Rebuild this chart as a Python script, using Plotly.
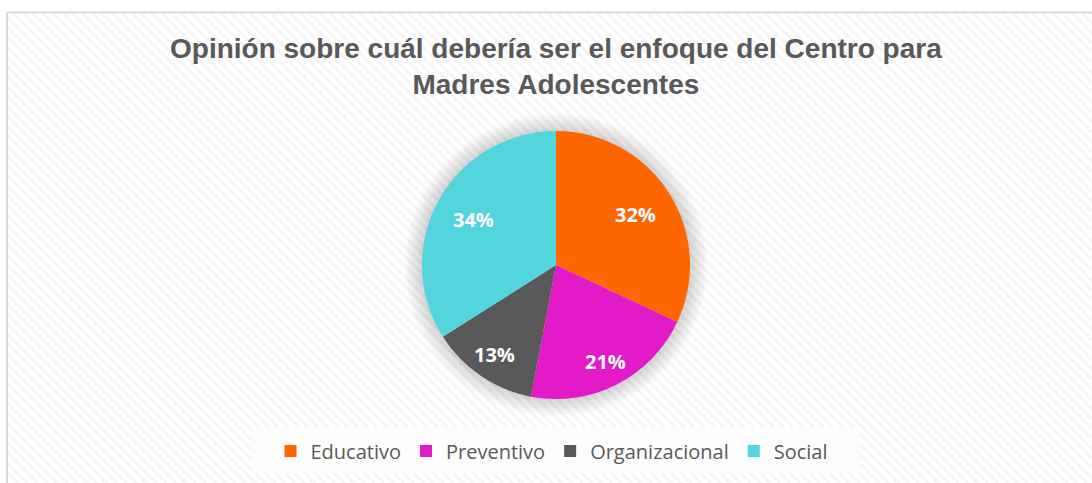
import numpy as np
import plotly.graph_objects as go

# ---- data ----
categories = ["Educativo", "Preventivo", "Organizacional", "Social"]
values = [32, 21, 13, 34]
colors = ["#FF6600", "#E31AC8", "#595959", "#52D5DD"]
title_lines = ["Opinión sobre cuál debería ser el enfoque del Centro para", "Madres Adolescentes"]

W, H = 1092, 483
cx, cy_top, R = 556, 265, 134
cy = H - cy_top

fig = go.Figure()

# hatched chart background
bx0, by1 = 7, H - 12.5
fig.add_trace(go.Scatter(
    x=[bx0, W + 10, W + 10, bx0, bx0], y=[-10, -10, by1, by1, -10],
    mode="lines", line=dict(width=0), fill="toself", fillcolor="white",
    fillpattern=dict(shape="\\", fgcolor="#ebebeb", bgcolor="white", size=7, solidity=0.4),
    hoverinfo="skip", showlegend=False))

# soft shadow around pie
t = np.linspace(0, 2 * np.pi, 200)
for k in range(14):
    rr = R + 1 + k * 1.3
    fig.add_trace(go.Scatter(
        x=cx + rr * np.cos(t), y=cy + rr * np.sin(t), mode="lines",
        line=dict(width=0), fill="toself", fillcolor="rgba(0,0,0,0.012)",
        hoverinfo="skip", showlegend=False))

# white legend box
lx0, lx1, ly0, ly1 = 252, 860, H - 473, H - 427
fig.add_trace(go.Scatter(
    x=[lx0, lx1, lx1, lx0, lx0], y=[ly0, ly0, ly1, ly1, ly0], mode="lines",
    line=dict(width=0), fill="toself", fillcolor="#fdfdfd",
    hoverinfo="skip", showlegend=False))

fig.add_trace(go.Pie(
    labels=categories, values=values, sort=False, direction="clockwise", rotation=0,
    marker=dict(colors=colors, line=dict(width=0)),
    textinfo="none",
    domain=dict(x=[(cx - R) / W, (cx + R) / W], y=[(cy - R) / H, (cy + R) / H]),
    hoverinfo="label+percent"))

# percentage labels placed along each slice's bisector
total = sum(values)
acc = 0.0
for v in values:
    share = v / total
    mid = 2 * np.pi * (acc + share / 2)
    acc += share
    frac = 0.70 if share > 0.25 else 0.81
    fig.add_annotation(
        x=cx + frac * R * np.sin(mid), y=cy + frac * R * np.cos(mid), xref="x", yref="y",
        text=f"{share:.0%}", showarrow=False, xanchor="center", yanchor="middle",
        font=dict(family="Open Sans", size=20, color="white", weight="bold"))

fig.add_annotation(
    x=cx, y=H - 66, xref="x", yref="y", text="<br>".join(title_lines), showarrow=False,
    font=dict(family="Liberation Sans", size=28, color="#595959", weight="bold"),
    xanchor="center", yanchor="middle", align="center")

fig.add_shape(type="line", x0=bx0, x1=W + 10, y0=by1, y1=by1, xref="x", yref="y",
              line=dict(color="#d9d9d9", width=2))
fig.add_shape(type="line", x0=bx0, x1=bx0, y0=-10, y1=by1, xref="x", yref="y",
              line=dict(color="#d9d9d9", width=2))

fig.update_layout(
    width=W, height=H, autosize=False,
    margin=dict(l=0, r=0, t=0, b=0),
    paper_bgcolor="white", plot_bgcolor="rgba(0,0,0,0)",
    xaxis=dict(range=[0, W], visible=False, fixedrange=True),
    yaxis=dict(range=[0, H], visible=False, fixedrange=True),
    showlegend=True,
    legend=dict(orientation="h", x=(cx - 4) / W, xanchor="center", y=(H - 451) / H, yanchor="middle",
                bgcolor="rgba(0,0,0,0)", font=dict(family="Open Sans", size=20, color="#595959"),
                itemsizing="constant", itemwidth=30),
)

fig.write_html("out.html", config={"displayModeBar": False},
               post_script="document.body.style.margin='0';")
